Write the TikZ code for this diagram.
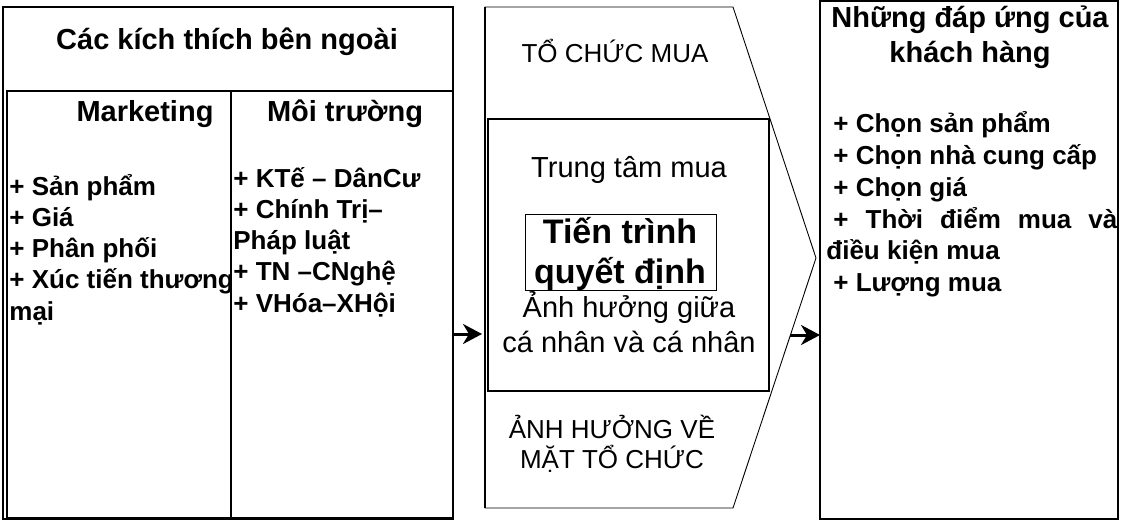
\documentclass[tikz,border=0pt]{standalone}
\usepackage{fontspec}
\setmainfont{Liberation Sans}
\usetikzlibrary{arrows.meta}

\begin{document}
\begin{tikzpicture}[x=0.5pt,y=-0.5pt]

    \tikzset{
      frame/.style={draw=black, line width=0.6pt},
      thinframe/.style={draw=black, line width=0.45pt},
      head/.style={font=\fontsize{14.5}{17.5}\selectfont\bfseries, inner sep=0pt, align=center, anchor=base},
      item/.style={font=\fontsize{13}{15.6}\selectfont\bfseries, inner sep=0pt, align=left, anchor=base west},
      plain/.style={font=\fontsize{13}{15}\selectfont, inner sep=0pt, align=center, anchor=base},
      flow/.style={line width=1.5pt, -{Stealth[length=9.5pt,width=10pt,inset=3pt]}},
    }
    \useasboundingbox (0,0) rectangle (1124,524);
    \hyphenpenalty=10000

    % external stimuli
    \draw[frame] (3,7) rectangle (453,519);
    \draw[frame] (7,91) rectangle (453,518);
    \draw[frame] (231,91) -- (231,518);
    \node[head] (stimtitle) at (227,50) {Các kích thích bên ngoài};
    \node[head] (mkttitle) at (145,121) {Marketing};
    \node[head] (envtitle) at (345,121) {Môi trường};
    \node[item] (mktlist) at (9,320) {+ Sản phẩm\\+ Giá\\+ Phân phối\\+ Xúc tiến thương\\mại};
    \node[item] (envlist) at (233,312) {+ KTế – DânCư\\+ Chính Trị–\\Pháp luật\\+ TN –CNghệ\\+ VHóa–XHội};

    % buying organisation
    \draw[thinframe] (485,7) -- (733,7) -- (816,258) -- (733,508) -- (485,508) -- cycle;
    \draw[frame] (485,7) -- (485,508);
    \draw[frame] (488,119) rectangle (769,391);
    \draw[thinframe] (525,214) rectangle (716,290);
    \node[plain] (orgtitle) at (615,63) {TỔ CHỨC MUA};
    \node[plain, font=\fontsize{14.5}{17.5}\selectfont] (center) at (629,177) {Trung tâm mua};
    \node[plain, font=\fontsize{17}{20}\selectfont\bfseries] (process) at (620,283) {Tiến trình\\quyết định};
    \node[plain, font=\fontsize{14.5}{17.5}\selectfont] (personal) at (629,352) {Ảnh hưởng giữa\\cá nhân và cá nhân};
    \node[plain] (orgeffect) at (612,468) {ẢNH HƯỞNG VỀ\\MẶT TỔ CHỨC};

    % customer responses
    \draw[frame] (820,1) rectangle (1118,519);
    \node[head] (resptitle) at (970,63) {Những đáp ứng của\\khách hàng};
    \node[item, text width=145.5pt, align=justify, font=\fontsize{13}{15.85}\selectfont\bfseries] (resplist) at (826,133)
      {\hspace*{3.5pt}+ Chọn sản phẩm\par
       \hspace*{3.5pt}+ Chọn nhà cung cấp\par
       \hspace*{3.5pt}+ Chọn giá\par
       \hspace*{3.5pt}+ Thời điểm mua và điều kiện mua\par
       \hspace*{3.5pt}+ Lượng mua};

    \coordinate (stimE) at (453,334);
    \coordinate (orgW) at (482,334);
    \coordinate (orgE) at (790,335);
    \coordinate (respW) at (820,335);
    \draw[flow] (stimE) -- (orgW);
    \draw[flow] (orgE) -- (respW);

\end{tikzpicture}
\end{document}
